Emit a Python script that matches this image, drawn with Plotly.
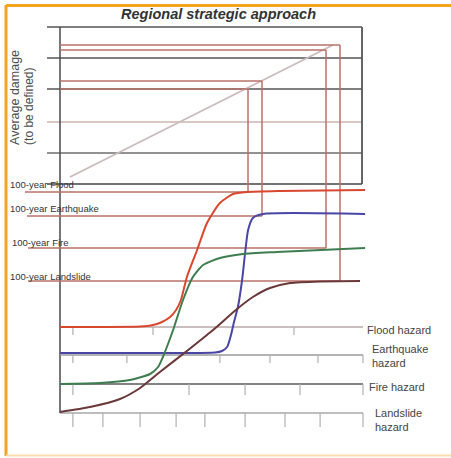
import plotly.graph_objects as go

# ---------------- data (x: hazard intensity, y: damage / curve level) ----------------
hazards = ["Flood", "Earthquake", "Fire", "Landslide"]

flood_x = [0, 13.3, 26.7, 31, 34, 36.7, 38.7, 40.3, 42.3, 45.7, 49, 53.3, 57.7, 62.3, 73.3, 101.7]
flood_y = [21.5, 21.5, 21.6, 22, 22.75, 24, 25.75, 28.25, 34, 40.75, 47.5, 52.5, 54.75, 55.25, 55.5, 55.75]

quake_x = [0, 30, 51.7, 54, 55.7, 57, 58, 59.3, 60.7, 61.7, 62.7, 64.3, 67.7, 101.7]
quake_y = [15, 15, 15.1, 15.5, 16.5, 19.5, 22.75, 26.5, 33.25, 40, 45.75, 48.75, 49.75, 49.75]

fire_x = [0, 13.3, 23.3, 30, 32.7, 34.3, 36, 37.7, 41, 44.3, 47.7, 53.3, 61, 72.3, 101.7]
fire_y = [7.25, 7.5, 8.25, 9.75, 11.5, 14, 17.25, 20.75, 28.25, 34, 37, 38.75, 39.75, 40.25, 41.25]

slide_x = [0, 10, 20, 26.7, 33.3, 42.3, 51, 59, 64.3, 70, 76.7, 86.7, 100]
slide_y = [0.25, 1.5, 3.5, 6.25, 10.25, 15.5, 20.75, 26, 29, 31.25, 32.5, 32.9, 33]

level_labels = ["100-year Flood", "100-year Earthquake", "100-year Fire", "100-year Landslide"]
level_y = [55.25, 49.25, 41.25, 33]            # 100-year curve level
level_start = [-11.67, -11, -10.67, -10.67]    # where the level line begins
label_y = [57.25, 51.25, 42.75, 34.25]
label_x = [-17.33, -17.33, -16.67, -17.33]
level_x = [62.67, 67.33, 88.67, 93.33]         # hazard value of 100-year event
damage_y = [81, 83, 90.75, 92]                  # resulting average damage

damage_grid = [96.5, 88.75, 81, 72.75, 65, 57.25]
grid_colors = ["#555555", "#555555", "#555555", "#cdb4b0", "#6e6e6e", "#444444"]
box_right = 100.67

diag_x = [3.33, 91]
diag_y = [59, 92]

axis_names = ["Flood hazard", "Earthquake<br>hazard", "Fire hazard", "Landslide<br>hazard"]
axis_y = [21.5, 14.5, 7.25, 0]
axis_end = 101
axis_colors = ["#b9aaa8", "#9a9a9a", "#5a5a5a", "#a8a8a8"]
axis_ticks = [
    [4.3, 31, 78],
    [4.3, 22.3, 53.3, 70, 86, 101],
    [4.3, 43, 61.7, 80, 101],
    [4.3, 14.3, 26.7, 38.7, 48.3, 61.7, 75, 86.7, 101],
]
tick_len = [2, 2, 2.75, 3.5]
axis_label_x = [101.7, 103.3, 102.3, 104.3]
axis_label_y = [20.75, 14.25, 6.5, -1.75]

curve_colors = ["#d9472f", "#4a46a6", "#3e7d50", "#6a3838"]
ref_red = "#b9706a"

# ---------------- figure ----------------
fig = go.Figure()

def seg(xs, ys, color, width, dash=None):
    fig.add_trace(go.Scatter(x=xs, y=ys, mode="lines",
                             line=dict(color=color, width=width, dash=dash),
                             hoverinfo="skip", showlegend=False))

# damage box grid lines (with left stubs)
for gy, gc in zip(damage_grid, grid_colors):
    seg([-4.33, box_right], [gy, gy], gc, 1.5)
# box right edge
seg([box_right, box_right], [damage_grid[0], damage_grid[-1]], "#555555", 1.8)
# left main axis
seg([0, 0], [damage_grid[0], 0], "#4a4a4a", 1.5)

# diagonal damage function
seg(diag_x, diag_y, "#cdbaba", 1.8)

# hazard axes with ticks
for ay, ac, ticks, tl in zip(axis_y, axis_colors, axis_ticks, tick_len):
    seg([0, axis_end], [ay, ay], ac, 1.6)
    tx, ty = [], []
    for t in ticks:
        tx += [t, t, None]
        ty += [ay, ay - tl, None]
    seg(tx, ty, "#b0b0b0", 1.2)

# 100-year level lines, verticals and damage readouts
for ly, ls, lx, dy in zip(level_y, level_start, level_x, damage_y):
    seg([ls, lx], [ly, ly], ref_red, 1.5)
    seg([lx, lx], [ly, dy], ref_red, 1.5)
    seg([0, lx], [dy, dy], ref_red, 1.5)

# hazard curves
for xs, ys, c in zip([flood_x, quake_x, fire_x, slide_x],
                     [flood_y, quake_y, fire_y, slide_y], curve_colors):
    fig.add_trace(go.Scatter(x=xs, y=ys, mode="lines",
                             line=dict(color=c, width=2, shape="spline", smoothing=0.6),
                             hoverinfo="skip", showlegend=False))

# ---------------- text ----------------
ann = []
ann.append(dict(x=52.67, y=99.75, text="<b><i>Regional strategic approach</i></b>",
                showarrow=False, font=dict(family="Liberation Sans", size=14.5, color="#333333"),
                xanchor="center", yanchor="middle"))
ann.append(dict(x=-15, y=66.4, text="Average damage", textangle=-90, showarrow=False,
                font=dict(family="Liberation Sans", size=12.5, color="#4d4d4d"),
                xanchor="center", yanchor="bottom"))
ann.append(dict(x=-10.33, y=66.4, text="(to be defined)", textangle=-90, showarrow=False,
                font=dict(family="Liberation Sans", size=12, color="#4d4d4d"),
                xanchor="center", yanchor="bottom"))
for t, lx, ly in zip(level_labels, label_x, label_y):
    ann.append(dict(x=lx, y=ly, text=t, showarrow=False, xanchor="left", yanchor="middle",
                    font=dict(family="Liberation Sans", size=9.5, color="#333333")))
for t, lx, ly in zip(axis_names, axis_label_x, axis_label_y):
    ann.append(dict(x=lx, y=ly, text=t, showarrow=False, xanchor="left", yanchor="middle",
                    align="left",
                    font=dict(family="Liberation Sans", size=11, color="#444444")))

W, H = 451, 458
shapes = [
    dict(type="line", xref="paper", yref="paper", x0=6 / W, x1=1, y0=1 - 5.5 / H, y1=1 - 5.5 / H,
         line=dict(color="#f6a31e", width=3)),
    dict(type="line", xref="paper", yref="paper", x0=6 / W, x1=6 / W, y0=1 - 5 / H, y1=1 - 456 / H,
         line=dict(color="#f6a31e", width=3)),
    dict(type="line", xref="paper", yref="paper", x0=6 / W, x1=1, y0=1 - 455.5 / H, y1=1 - 455.5 / H,
         line=dict(color="#fbdcb0", width=2)),
]

fig.update_layout(
    width=W, height=H, margin=dict(l=0, r=0, t=0, b=0),
    paper_bgcolor="white", plot_bgcolor="white",
    xaxis=dict(range=[-20, 130.333], visible=False, fixedrange=True),
    yaxis=dict(range=[-11.25, 103.25], visible=False, fixedrange=True),
    annotations=ann, shapes=shapes,
)

fig.write_html("out.html", config={"displayModeBar": False},
               post_script="document.body.style.margin='0';document.body.style.overflow='hidden';")
